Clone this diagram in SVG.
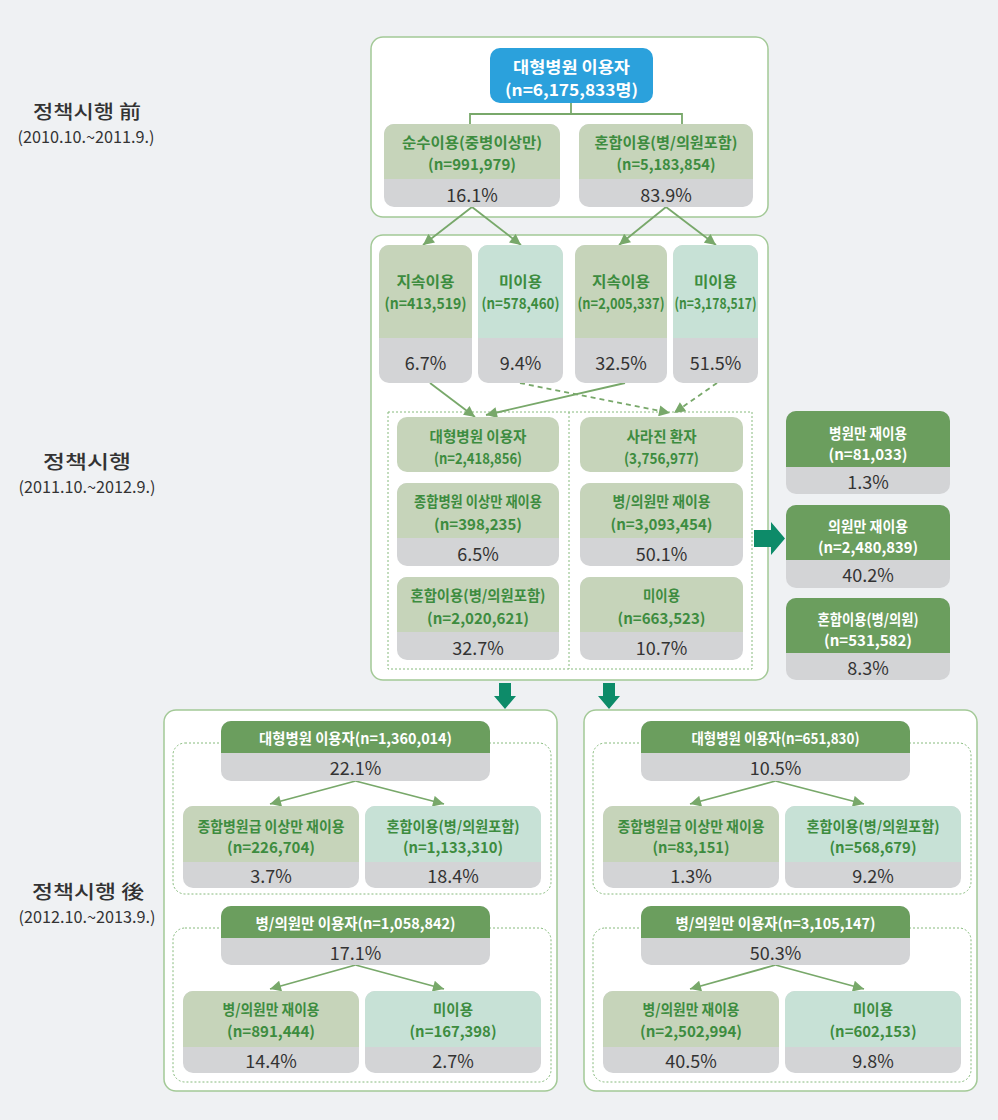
<svg xmlns="http://www.w3.org/2000/svg" width="998" height="1120" viewBox="0 0 998 1120">
<defs>
<style>
text{font-family:"Noto Sans CJK KR","Noto Sans",sans-serif;text-anchor:middle;dominant-baseline:central}
.t{font-size:15px;font-weight:700;fill:#3d8c3f}
.w{font-size:15px;font-weight:700;fill:#fff}
.p{font-size:18px;font-weight:400;fill:#333}
.lab{font-size:19px;font-weight:500;fill:#333}
.dt{font-size:16px;font-weight:400;fill:#333}
.cont{fill:#fff;stroke:#a3c997;stroke-width:1.5}
.dot{fill:none;stroke:#86ba7c;stroke-width:1;stroke-dasharray:2 2}
.gray{fill:#d3d4d6}
.ol{fill:#c6d4ba}
.mt{fill:#c7e1d6}
.dk{fill:#6b9e5e}
.ln{stroke:#78a86a;stroke-width:1.8;fill:none}
.ds{stroke-dasharray:5 4}
.fat{fill:#0d8b69}
</style>
<marker id="ah" viewBox="0 0 10 10" refX="10" refY="5" markerWidth="12" markerHeight="11" markerUnits="userSpaceOnUse" orient="auto">
<path d="M0,0 L10,5 L0,10 z" fill="#78a86a"/>
</marker>
</defs>
<rect x="0" y="0" width="998" height="1120" fill="#eff1f3"/>

<g id="labels">
<text class="lab" x="87" y="110" textLength="108" lengthAdjust="spacingAndGlyphs">정책시행 前</text>
<text class="dt" x="86" y="136" textLength="137" lengthAdjust="spacingAndGlyphs">(2010.10.~2011.9.)</text>
<text class="lab" x="87" y="460" textLength="88" lengthAdjust="spacingAndGlyphs">정책시행</text>
<text class="dt" x="87" y="486" textLength="137" lengthAdjust="spacingAndGlyphs">(2011.10.~2012.9.)</text>
<text class="lab" x="88" y="890" textLength="112" lengthAdjust="spacingAndGlyphs">정책시행 後</text>
<text class="dt" x="87" y="916" textLength="137" lengthAdjust="spacingAndGlyphs">(2012.10.~2013.9.)</text>
</g>

<g id="containers">
<rect class="cont" x="371" y="37" width="397" height="180" rx="12"/>
<rect class="cont" x="371" y="235" width="397" height="445" rx="12"/>
<rect class="cont" x="164" y="710" width="393" height="381" rx="12"/>
<rect class="cont" x="584" y="710" width="393" height="381" rx="12"/>
<rect class="dot" x="388" y="412" width="364" height="257"/>
<line class="dot" x1="569" y1="412" x2="569" y2="669"/>
<rect class="dot" x="173" y="743" width="378" height="151" rx="12"/>
<rect class="dot" x="173" y="928" width="378" height="154" rx="12"/>
<rect class="dot" x="593" y="743" width="378" height="151" rx="12"/>
<rect class="dot" x="593" y="928" width="378" height="154" rx="12"/>
</g>

<g id="connectors">
<polyline class="ln" points="571,103 571,114"/>
<polyline class="ln" points="470,124 470,114 682,114 682,124"/>
<line class="ln" x1="472" y1="207" x2="423" y2="245" marker-end="url(#ah)"/>
<line class="ln" x1="472" y1="207" x2="521" y2="245" marker-end="url(#ah)"/>
<line class="ln" x1="666" y1="207" x2="619" y2="245" marker-end="url(#ah)"/>
<line class="ln" x1="666" y1="207" x2="716" y2="245" marker-end="url(#ah)"/>
<line class="ln" x1="430" y1="383" x2="475" y2="417" marker-end="url(#ah)"/>
<line class="ln" x1="625" y1="383" x2="486" y2="415" marker-end="url(#ah)"/>
<line class="ln ds" x1="520" y1="383" x2="670" y2="413" marker-end="url(#ah)"/>
<line class="ln ds" x1="717" y1="383" x2="674" y2="413" marker-end="url(#ah)"/>
<line class="ln" x1="355.5" y1="781" x2="270" y2="804" marker-end="url(#ah)"/>
<line class="ln" x1="355.5" y1="781" x2="444" y2="804" marker-end="url(#ah)"/>
<line class="ln" x1="355.5" y1="965" x2="270" y2="989" marker-end="url(#ah)"/>
<line class="ln" x1="355.5" y1="965" x2="444" y2="989" marker-end="url(#ah)"/>
<line class="ln" x1="775.5" y1="781" x2="690" y2="804" marker-end="url(#ah)"/>
<line class="ln" x1="775.5" y1="781" x2="864" y2="804" marker-end="url(#ah)"/>
<line class="ln" x1="775.5" y1="965" x2="690" y2="989" marker-end="url(#ah)"/>
<line class="ln" x1="775.5" y1="965" x2="864" y2="989" marker-end="url(#ah)"/>
<polygon class="fat" points="754,530 771,530 771,522 785,538.5 771,555 771,547 754,547"/>
<polygon class="fat" points="499,683 511,683 511,696 516,696 505,709 494,696 499,696"/>
<polygon class="fat" points="603,683 615,683 615,696 620,696 609,709 598,696 603,696"/>
</g>

<g id="n-top">
<rect x="490" y="48" width="163" height="55" rx="10" fill="#2ba1dc"/>
<text class="w" style="font-size:16px" x="571.5" y="66" textLength="117" lengthAdjust="spacingAndGlyphs">대형병원 이용자</text>
<text class="w" style="font-size:16px" x="571.5" y="89" textLength="133" lengthAdjust="spacingAndGlyphs">(n=6,175,833명)</text>
</g>
<g id="n-pure">
<rect class="gray" x="384" y="124" width="176" height="83" rx="10"/>
<path class="ol" d="M384,179 V134 A10,10 0 0 1 394,124 H550 A10,10 0 0 1 560,134 V179 Z"/>
<text class="t" x="472" y="141" textLength="140" lengthAdjust="spacingAndGlyphs">순수이용(중병이상만)</text>
<text class="t" x="472" y="163" textLength="88" lengthAdjust="spacingAndGlyphs">(n=991,979)</text>
<text class="p" x="472" y="194">16.1%</text>
</g>
<g id="n-mixed">
<rect class="gray" x="579" y="124" width="174" height="83" rx="10"/>
<path class="ol" d="M579,179 V134 A10,10 0 0 1 589,124 H743 A10,10 0 0 1 753,134 V179 Z"/>
<text class="t" x="666" y="141" textLength="143" lengthAdjust="spacingAndGlyphs">혼합이용(병/의원포함)</text>
<text class="t" x="666" y="163" textLength="99" lengthAdjust="spacingAndGlyphs">(n=5,183,854)</text>
<text class="p" x="666" y="194">83.9%</text>
</g>

<g id="n-m1">
<rect class="gray" x="379" y="245" width="93" height="138" rx="10"/>
<path class="ol" d="M379,338 V255 A10,10 0 0 1 389,245 H462 A10,10 0 0 1 472,255 V338 Z"/>
<text class="t" x="425.5" y="280" textLength="58" lengthAdjust="spacingAndGlyphs">지속이용</text>
<text class="t" x="425.5" y="302" textLength="82" lengthAdjust="spacingAndGlyphs">(n=413,519)</text>
<text class="p" x="425.5" y="362">6.7%</text>
</g>
<g id="n-m2">
<rect class="gray" x="478" y="245" width="85" height="138" rx="10"/>
<path class="mt" d="M478,338 V255 A10,10 0 0 1 488,245 H553 A10,10 0 0 1 563,255 V338 Z"/>
<text class="t" x="520.5" y="280" textLength="43" lengthAdjust="spacingAndGlyphs">미이용</text>
<text class="t" x="520.5" y="302" textLength="78" lengthAdjust="spacingAndGlyphs">(n=578,460)</text>
<text class="p" x="520.5" y="362">9.4%</text>
</g>
<g id="n-m3">
<rect class="gray" x="575" y="245" width="92" height="138" rx="10"/>
<path class="ol" d="M575,338 V255 A10,10 0 0 1 585,245 H657 A10,10 0 0 1 667,255 V338 Z"/>
<text class="t" x="621" y="280" textLength="58" lengthAdjust="spacingAndGlyphs">지속이용</text>
<text class="t" x="621" y="302" textLength="87" lengthAdjust="spacingAndGlyphs">(n=2,005,337)</text>
<text class="p" x="621" y="362">32.5%</text>
</g>
<g id="n-m4">
<rect class="gray" x="673" y="245" width="85" height="138" rx="10"/>
<path class="mt" d="M673,338 V255 A10,10 0 0 1 683,245 H748 A10,10 0 0 1 758,255 V338 Z"/>
<text class="t" x="715.5" y="280" textLength="43" lengthAdjust="spacingAndGlyphs">미이용</text>
<text class="t" x="715.5" y="302" textLength="82" lengthAdjust="spacingAndGlyphs">(n=3,178,517)</text>
<text class="p" x="715.5" y="362">51.5%</text>
</g>

<g id="n-i1">
<rect class="ol" x="397" y="417" width="162" height="55" rx="10"/>
<text class="t" x="478" y="435" textLength="97" lengthAdjust="spacingAndGlyphs">대형병원 이용자</text>
<text class="t" x="478" y="457" textLength="88" lengthAdjust="spacingAndGlyphs">(n=2,418,856)</text>
</g>
<g id="n-i2">
<rect class="ol" x="580" y="417" width="163" height="55" rx="10"/>
<text class="t" x="661.5" y="435" textLength="70" lengthAdjust="spacingAndGlyphs">사라진 환자</text>
<text class="t" x="661.5" y="457" textLength="75" lengthAdjust="spacingAndGlyphs">(3,756,977)</text>
</g>
<g id="n-i3">
<rect class="gray" x="397" y="483" width="162" height="83" rx="10"/>
<path class="ol" d="M397,538 V493 A10,10 0 0 1 407,483 H549 A10,10 0 0 1 559,493 V538 Z"/>
<text class="t" x="478" y="500" textLength="128" lengthAdjust="spacingAndGlyphs">종합병원 이상만 재이용</text>
<text class="t" x="478" y="523" textLength="88" lengthAdjust="spacingAndGlyphs">(n=398,235)</text>
<text class="p" x="478" y="553">6.5%</text>
</g>
<g id="n-i4">
<rect class="gray" x="580" y="483" width="163" height="83" rx="10"/>
<path class="ol" d="M580,538 V493 A10,10 0 0 1 590,483 H733 A10,10 0 0 1 743,493 V538 Z"/>
<text class="t" x="661.5" y="500" textLength="98" lengthAdjust="spacingAndGlyphs">병/의원만 재이용</text>
<text class="t" x="661.5" y="523" textLength="102" lengthAdjust="spacingAndGlyphs">(n=3,093,454)</text>
<text class="p" x="661.5" y="553">50.1%</text>
</g>
<g id="n-i5">
<rect class="gray" x="397" y="577" width="162" height="83" rx="10"/>
<path class="ol" d="M397,632 V587 A10,10 0 0 1 407,577 H549 A10,10 0 0 1 559,587 V632 Z"/>
<text class="t" x="478" y="594" textLength="135" lengthAdjust="spacingAndGlyphs">혼합이용(병/의원포함)</text>
<text class="t" x="478" y="617" textLength="102" lengthAdjust="spacingAndGlyphs">(n=2,020,621)</text>
<text class="p" x="478" y="647">32.7%</text>
</g>
<g id="n-i6">
<rect class="gray" x="580" y="577" width="163" height="83" rx="10"/>
<path class="ol" d="M580,632 V587 A10,10 0 0 1 590,577 H733 A10,10 0 0 1 743,587 V632 Z"/>
<text class="t" x="661.5" y="594" textLength="37" lengthAdjust="spacingAndGlyphs">미이용</text>
<text class="t" x="661.5" y="617" textLength="88" lengthAdjust="spacingAndGlyphs">(n=663,523)</text>
<text class="p" x="661.5" y="647">10.7%</text>
</g>

<g id="n-r1">
<rect class="gray" x="786" y="411" width="164" height="83" rx="10"/>
<path class="dk" d="M786,467 V421 A10,10 0 0 1 796,411 H940 A10,10 0 0 1 950,421 V467 Z"/>
<text class="w" x="868" y="432" textLength="78" lengthAdjust="spacingAndGlyphs">병원만 재이용</text>
<text class="w" x="868" y="453" textLength="79" lengthAdjust="spacingAndGlyphs">(n=81,033)</text>
<text class="p" x="868" y="481">1.3%</text>
</g>
<g id="n-r2">
<rect class="gray" x="786" y="505" width="164" height="83" rx="10"/>
<path class="dk" d="M786,560 V515 A10,10 0 0 1 796,505 H940 A10,10 0 0 1 950,515 V560 Z"/>
<text class="w" x="868" y="525" textLength="80" lengthAdjust="spacingAndGlyphs">의원만 재이용</text>
<text class="w" x="868" y="546" textLength="100" lengthAdjust="spacingAndGlyphs">(n=2,480,839)</text>
<text class="p" x="868" y="574">40.2%</text>
</g>
<g id="n-r3">
<rect class="gray" x="786" y="598" width="164" height="82" rx="10"/>
<path class="dk" d="M786,653 V608 A10,10 0 0 1 796,598 H940 A10,10 0 0 1 950,608 V653 Z"/>
<text class="w" x="868" y="618" textLength="101" lengthAdjust="spacingAndGlyphs">혼합이용(병/의원)</text>
<text class="w" x="868" y="639" textLength="88" lengthAdjust="spacingAndGlyphs">(n=531,582)</text>
<text class="p" x="868" y="667">8.3%</text>
</g>

<g id="n-bl-h1">
<rect class="gray" x="221" y="721" width="269" height="60" rx="10"/>
<path class="dk" d="M221,753 V731 A10,10 0 0 1 231,721 H480 A10,10 0 0 1 490,731 V753 Z"/>
<text class="w" x="355.5" y="737" textLength="193" lengthAdjust="spacingAndGlyphs">대형병원 이용자(n=1,360,014)</text>
<text class="p" x="355.5" y="767">22.1%</text>
</g>
<g id="n-bl-a">
<rect class="gray" x="183" y="806" width="176" height="82" rx="10"/>
<path class="ol" d="M183,862 V816 A10,10 0 0 1 193,806 H349 A10,10 0 0 1 359,816 V862 Z"/>
<text class="t" x="271" y="825" textLength="147" lengthAdjust="spacingAndGlyphs">종합병원급 이상만 재이용</text>
<text class="t" x="271" y="846" textLength="88" lengthAdjust="spacingAndGlyphs">(n=226,704)</text>
<text class="p" x="271" y="875">3.7%</text>
</g>
<g id="n-bl-b">
<rect class="gray" x="365" y="806" width="176" height="82" rx="10"/>
<path class="mt" d="M365,862 V816 A10,10 0 0 1 375,806 H531 A10,10 0 0 1 541,816 V862 Z"/>
<text class="t" x="453" y="825" textLength="133" lengthAdjust="spacingAndGlyphs">혼합이용(병/의원포함)</text>
<text class="t" x="453" y="846" textLength="100" lengthAdjust="spacingAndGlyphs">(n=1,133,310)</text>
<text class="p" x="453" y="875">18.4%</text>
</g>
<g id="n-bl-h2">
<rect class="gray" x="221" y="906" width="269" height="59" rx="10"/>
<path class="dk" d="M221,938 V916 A10,10 0 0 1 231,906 H480 A10,10 0 0 1 490,916 V938 Z"/>
<text class="w" x="355.5" y="922" textLength="200" lengthAdjust="spacingAndGlyphs">병/의원만 이용자(n=1,058,842)</text>
<text class="p" x="355.5" y="952">17.1%</text>
</g>
<g id="n-bl-c">
<rect class="gray" x="183" y="991" width="176" height="82" rx="10"/>
<path class="ol" d="M183,1047 V1001 A10,10 0 0 1 193,991 H349 A10,10 0 0 1 359,1001 V1047 Z"/>
<text class="t" x="271" y="1008" textLength="97" lengthAdjust="spacingAndGlyphs">병/의원만 재이용</text>
<text class="t" x="271" y="1030" textLength="88" lengthAdjust="spacingAndGlyphs">(n=891,444)</text>
<text class="p" x="271" y="1060">14.4%</text>
</g>
<g id="n-bl-d">
<rect class="gray" x="365" y="991" width="176" height="82" rx="10"/>
<path class="mt" d="M365,1047 V1001 A10,10 0 0 1 375,991 H531 A10,10 0 0 1 541,1001 V1047 Z"/>
<text class="t" x="453" y="1008" textLength="40" lengthAdjust="spacingAndGlyphs">미이용</text>
<text class="t" x="453" y="1030" textLength="87" lengthAdjust="spacingAndGlyphs">(n=167,398)</text>
<text class="p" x="453" y="1060">2.7%</text>
</g>

<g id="n-br-h1" transform="translate(420,0)">
<rect class="gray" x="221" y="721" width="269" height="60" rx="10"/>
<path class="dk" d="M221,753 V731 A10,10 0 0 1 231,721 H480 A10,10 0 0 1 490,731 V753 Z"/>
<text class="w" x="355.5" y="737" textLength="168" lengthAdjust="spacingAndGlyphs">대형병원 이용자(n=651,830)</text>
<text class="p" x="355.5" y="767">10.5%</text>
</g>
<g id="n-br-a" transform="translate(420,0)">
<rect class="gray" x="183" y="806" width="176" height="82" rx="10"/>
<path class="ol" d="M183,862 V816 A10,10 0 0 1 193,806 H349 A10,10 0 0 1 359,816 V862 Z"/>
<text class="t" x="271" y="825" textLength="147" lengthAdjust="spacingAndGlyphs">종합병원급 이상만 재이용</text>
<text class="t" x="271" y="846" textLength="77" lengthAdjust="spacingAndGlyphs">(n=83,151)</text>
<text class="p" x="271" y="875">1.3%</text>
</g>
<g id="n-br-b" transform="translate(420,0)">
<rect class="gray" x="365" y="806" width="176" height="82" rx="10"/>
<path class="mt" d="M365,862 V816 A10,10 0 0 1 375,806 H531 A10,10 0 0 1 541,816 V862 Z"/>
<text class="t" x="453" y="825" textLength="133" lengthAdjust="spacingAndGlyphs">혼합이용(병/의원포함)</text>
<text class="t" x="453" y="846" textLength="87" lengthAdjust="spacingAndGlyphs">(n=568,679)</text>
<text class="p" x="453" y="875">9.2%</text>
</g>
<g id="n-br-h2" transform="translate(420,0)">
<rect class="gray" x="221" y="906" width="269" height="59" rx="10"/>
<path class="dk" d="M221,938 V916 A10,10 0 0 1 231,906 H480 A10,10 0 0 1 490,916 V938 Z"/>
<text class="w" x="355.5" y="922" textLength="200" lengthAdjust="spacingAndGlyphs">병/의원만 이용자(n=3,105,147)</text>
<text class="p" x="355.5" y="952">50.3%</text>
</g>
<g id="n-br-c" transform="translate(420,0)">
<rect class="gray" x="183" y="991" width="176" height="82" rx="10"/>
<path class="ol" d="M183,1047 V1001 A10,10 0 0 1 193,991 H349 A10,10 0 0 1 359,1001 V1047 Z"/>
<text class="t" x="271" y="1008" textLength="97" lengthAdjust="spacingAndGlyphs">병/의원만 재이용</text>
<text class="t" x="271" y="1030" textLength="102" lengthAdjust="spacingAndGlyphs">(n=2,502,994)</text>
<text class="p" x="271" y="1060">40.5%</text>
</g>
<g id="n-br-d" transform="translate(420,0)">
<rect class="gray" x="365" y="991" width="176" height="82" rx="10"/>
<path class="mt" d="M365,1047 V1001 A10,10 0 0 1 375,991 H531 A10,10 0 0 1 541,1001 V1047 Z"/>
<text class="t" x="453" y="1008" textLength="40" lengthAdjust="spacingAndGlyphs">미이용</text>
<text class="t" x="453" y="1030" textLength="87" lengthAdjust="spacingAndGlyphs">(n=602,153)</text>
<text class="p" x="453" y="1060">9.8%</text>
</g>
</svg>
